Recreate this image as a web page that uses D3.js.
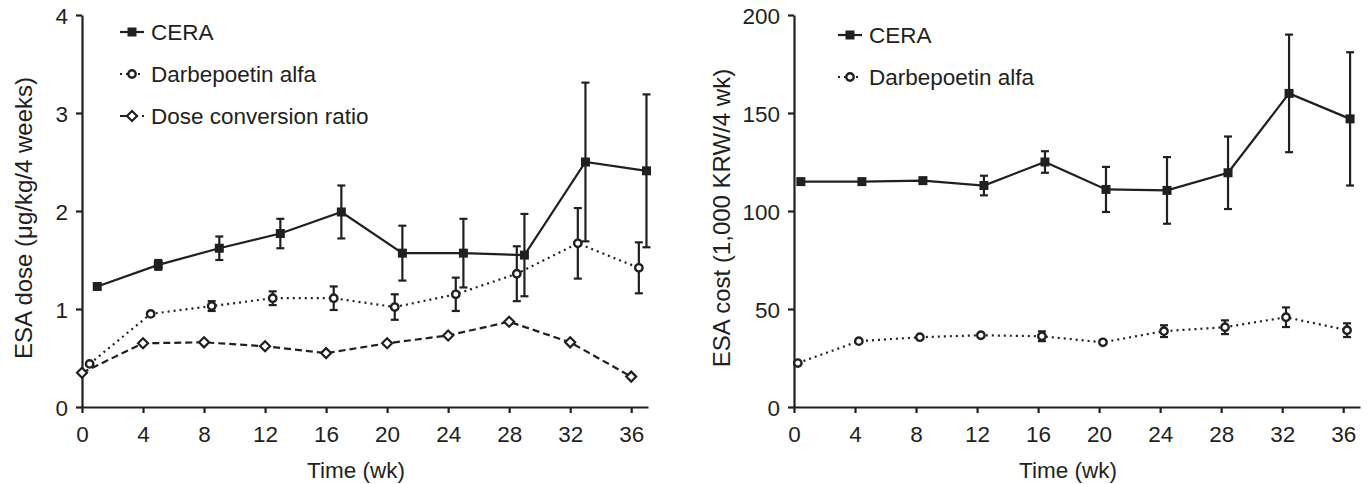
<!DOCTYPE html>
<html>
<head>
<meta charset="utf-8">
<script src="https://cdn.jsdelivr.net/npm/d3@7.9.0/dist/d3.min.js"></script>
<style>
  body { margin: 0; background: #fff; }
  svg { display: block; font-family: "Liberation Sans", Arial, sans-serif; }
  .axis text { font-size: 22.5px; fill: #231f20; }
  .axis path, .axis line { stroke: #231f20; stroke-width: 2.2; }
  .label { font-size: 22.5px; fill: #231f20; }
  .ylabel { font-size: 24px; fill: #231f20; }
</style>
</head>
<body>
<svg id="chart" width="1370" height="484"></svg>
<script>
// data
const weeks = [0, 4, 8, 12, 16, 20, 24, 28, 32, 36];
const xTicks = [0, 4, 8, 12, 16, 20, 24, 28, 32, 36];

// left panel: ESA dose (ug/kg/4 weeks)
const ceraDose = [1.23, 1.45, 1.62, 1.77, 1.99, 1.57, 1.57, 1.55, 2.50, 2.41];
const ceraDoseErr = [0, 0.05, 0.12, 0.15, 0.27, 0.28, 0.35, 0.42, 0.81, 0.78];
const darbDose = [0.44, 0.95, 1.03, 1.11, 1.11, 1.02, 1.15, 1.36, 1.67, 1.42];
const darbDoseErr = [0, 0.02, 0.05, 0.07, 0.12, 0.13, 0.17, 0.28, 0.36, 0.26];
const ratio = [0.35, 0.65, 0.66, 0.62, 0.55, 0.65, 0.73, 0.87, 0.66, 0.31];
const doseTicks = [0, 1, 2, 3, 4];

// right panel: ESA cost (1,000 KRW/4 wk)
const ceraCost = [115, 115, 115.5, 113, 125, 111, 110.5, 119.5, 160, 147];
const ceraCostErr = [0, 0, 1, 5, 5.5, 11.5, 17, 18.5, 30, 34];
const darbCost = [22.4, 33.6, 35.6, 36.6, 36.1, 33, 38.7, 40.7, 45.8, 39.2];
const darbCostErr = [0, 0, 0, 0, 2.5, 0, 3, 3.5, 5, 3.5];
const costTicks = [0, 50, 100, 150, 200];

const ink = '#231f20';
const svg = d3.select('#chart');

function drawPanel(opt) {
  const g = svg.append('g');
  const x = d3.scaleLinear().domain([0, 37.1]).range([opt.left, opt.left + 566]);
  const y = d3.scaleLinear().domain([0, opt.yMax]).range([407, 15]);

  g.append('g')
    .attr('class', 'axis')
    .attr('transform', `translate(${opt.left},0)`)
    .call(d3.axisLeft(y).tickValues(opt.yTicks).tickFormat(d3.format('d'))
      .tickSize(6).tickSizeOuter(0).tickPadding(8))
    .selectAll('text').attr('dy', '0.36em');

  g.append('g')
    .attr('class', 'axis')
    .attr('transform', 'translate(0,407)')
    .call(d3.axisBottom(x).tickValues(xTicks).tickSize(6).tickSizeOuter(0).tickPadding(13));

  // rotated y title, baseline on the right side
  g.append('text')
    .attr('class', 'ylabel')
    .attr('transform', `translate(${opt.yLabelX},218) rotate(-90)`)
    .attr('text-anchor', 'middle')
    .text(opt.yLabel);

  g.append('text')
    .attr('class', 'label')
    .attr('x', opt.left + 274)
    .attr('y', 470)
    .attr('text-anchor', 'middle')
    .attr('dominant-baseline', 'central')
    .text('Time (wk)');

  // series
  opt.series.forEach((s) => {
    const pts = weeks.map((w, i) => ({ x: w + s.shift, v: s.values[i], e: s.err ? s.err[i] : 0 }));
    const line = d3.line().x((d) => x(d.x)).y((d) => y(d.v));
    g.append('path')
      .datum(pts)
      .attr('d', line)
      .attr('fill', 'none')
      .attr('stroke', ink)
      .attr('stroke-width', 2.2)
      .attr('stroke-dasharray', s.dash);

    const eb = g.append('g').selectAll('g')
      .data(pts.filter((d) => d.e > 0))
      .join('g')
      .attr('stroke', ink)
      .attr('stroke-width', 2.2);
    eb.append('line')
      .attr('x1', (d) => x(d.x)).attr('x2', (d) => x(d.x))
      .attr('y1', (d) => y(d.v - d.e)).attr('y2', (d) => y(d.v + d.e));
    eb.append('line')
      .attr('x1', (d) => x(d.x) - 4).attr('x2', (d) => x(d.x) + 4)
      .attr('y1', (d) => y(d.v + d.e)).attr('y2', (d) => y(d.v + d.e));
    eb.append('line')
      .attr('x1', (d) => x(d.x) - 4).attr('x2', (d) => x(d.x) + 4)
      .attr('y1', (d) => y(d.v - d.e)).attr('y2', (d) => y(d.v - d.e));

    g.append('g').selectAll('path')
      .data(pts)
      .join('path')
      .attr('transform', (d) => `translate(${x(d.x)},${y(d.v)})`)
      .call(marker, s.shape);
  });

  // legend
  opt.legend.forEach((s, i) => {
    const ly = opt.legendY + i * 42;
    const lx = opt.legendX;
    g.append('line')
      .attr('x1', lx).attr('x2', lx + 24)
      .attr('y1', ly).attr('y2', ly)
      .attr('stroke', ink).attr('stroke-width', 2.2)
      .attr('stroke-dasharray', s.dash);
    g.append('path')
      .attr('transform', `translate(${lx + 12},${ly})`)
      .call(marker, s.shape);
    g.append('text')
      .attr('class', 'label')
      .attr('x', lx + 31)
      .attr('y', ly)
      .attr('dominant-baseline', 'central')
      .text(s.name);
  });
}

function marker(sel, shape) {
  if (shape === 'square') {
    sel.attr('d', 'M-4.5,-4.5H4.5V4.5H-4.5Z').attr('fill', ink).attr('stroke', 'none');
  } else if (shape === 'circle') {
    sel.attr('d', d3.arc()({ innerRadius: 0, outerRadius: 3.7, startAngle: 0, endAngle: 2 * Math.PI }))
      .attr('fill', '#fff').attr('stroke', ink).attr('stroke-width', 2.4);
  } else {
    sel.attr('d', 'M0,-5L5,0L0,5L-5,0Z').attr('fill', '#fff')
      .attr('stroke', ink).attr('stroke-width', 2.2);
  }
}

const cera = { name: 'CERA', shape: 'square', dash: null };
const darb = { name: 'Darbepoetin alfa', shape: 'circle', dash: '2,4' };
const conv = { name: 'Dose conversion ratio', shape: 'diamond', dash: '7,4' };

drawPanel({
  left: 82,
  yMax: 4,
  yTicks: doseTicks,
  yLabel: 'ESA dose (μg/kg/4 weeks)',
  yLabelX: 32,
  legendX: 120,
  legendY: 32,
  legend: [cera, darb, conv],
  series: [
    { ...conv, shift: 0, values: ratio },
    { ...darb, shift: 0.5, values: darbDose, err: darbDoseErr },
    { ...cera, shift: 1, values: ceraDose, err: ceraDoseErr },
  ],
});

drawPanel({
  left: 794,
  yMax: 200,
  yTicks: costTicks,
  yLabel: 'ESA cost (1,000 KRW/4 wk)',
  yLabelX: 730,
  legendX: 838,
  legendY: 35,
  legend: [cera, darb],
  series: [
    { ...darb, shift: 0.25, values: darbCost, err: darbCostErr },
    { ...cera, shift: 0.45, values: ceraCost, err: ceraCostErr },
  ],
});
</script>
</body>
</html>
